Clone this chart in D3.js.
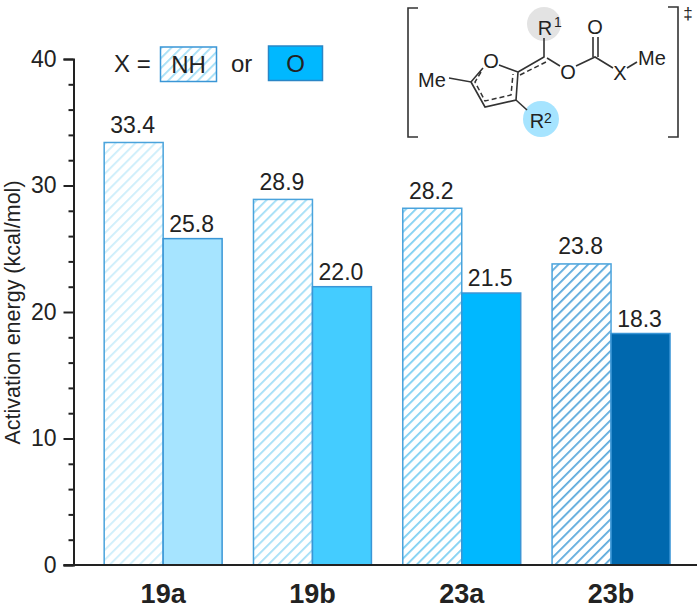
<!DOCTYPE html>
<html>
<head>
<meta charset="utf-8">
<script src="https://cdn.jsdelivr.net/npm/d3@7"></script>
<style>
  html, body { margin: 0; padding: 0; background: #fff; }
  text { font-family: "Liberation Sans", Arial, sans-serif; fill: #222; }
</style>
</head>
<body>
<div id="chart"></div>
<script>
"use strict"

let categories = ['19a', '19b', '23a', '23b'];
let nhValues = [33.4, 28.9, 28.2, 23.8];
let oValues = [25.8, 22.0, 21.5, 18.3];
let oColors = ['#a6e4ff', '#44ccff', '#00b8ff', '#0068ae'];
let nhHatchColors = ['#cdeefb', '#a4dff7', '#7fd0f2', '#5ba9dc'];
let yTicks = [0, 10, 20, 30, 40];

let width = 700,
    height = 609;

let svg = d3.select('#chart')
    .append('svg')
    .attr('width', width)
    .attr('height', height);

let defs = svg.append('defs');

// one hatch pattern per bar colour
nhHatchColors.forEach(function (c, i) {
    let p = defs.append('pattern')
        .attr('id', 'hatch-' + i)
        .attr('patternUnits', 'userSpaceOnUse')
        .attr('width', 7)
        .attr('height', 7)
        .attr('patternTransform', 'rotate(45)');
    p.append('rect').attr('width', 7).attr('height', 7).attr('fill', '#fff');
    p.append('rect').attr('width', 1.8).attr('height', 7).attr('fill', c);
});

let y = d3.scaleLinear().domain([0, 40]).range([565, 59]);
let x = d3.scaleBand().domain(categories).range([88.5, 685.7]).paddingInner(0.21).paddingOuter(0.105);
let barWidth = x.bandwidth() / 2;

// bars
let groups = svg.selectAll('.group')
    .data(categories)
    .enter()
    .append('g')
    .attr('class', 'group');

groups.append('rect')
    .attr('x', function (d) { return x(d); })
    .attr('y', function (d, i) { return y(nhValues[i]); })
    .attr('width', barWidth)
    .attr('height', function (d, i) { return y(0) - y(nhValues[i]); })
    .attr('fill', function (d, i) { return 'url(#hatch-' + i + ')'; })
    .attr('stroke', '#4aa3dc')
    .attr('stroke-width', 1.5);

groups.append('rect')
    .attr('x', function (d) { return x(d) + barWidth; })
    .attr('y', function (d, i) { return y(oValues[i]); })
    .attr('width', barWidth)
    .attr('height', function (d, i) { return y(0) - y(oValues[i]); })
    .attr('fill', function (d, i) { return oColors[i]; })
    .attr('stroke', '#3a96d6')
    .attr('stroke-width', 1.5);

// value labels
groups.append('text')
    .attr('x', function (d) { return x(d) + barWidth / 2 - 1; })
    .attr('y', function (d, i) { return y(nhValues[i]) - 9.5; })
    .attr('text-anchor', 'middle')
    .style('font-size', '23px')
    .text(function (d, i) { return nhValues[i].toFixed(1); });

groups.append('text')
    .attr('x', function (d) { return x(d) + barWidth * 1.5 - 1; })
    .attr('y', function (d, i) { return y(oValues[i]) - 7; })
    .attr('text-anchor', 'middle')
    .style('font-size', '23px')
    .text(function (d, i) { return oValues[i].toFixed(1); });

// y axis, major and minor ticks
let yAxis = d3.axisLeft(y).tickValues(yTicks).tickSize(10).tickPadding(7).tickFormat(d3.format('d'));
let yAxisG = svg.append('g').attr('transform', 'translate(73.5,0)').call(yAxis);
yAxisG.selectAll('text').style('font-size', '23px');
yAxisG.selectAll('line').attr('stroke', '#222').attr('stroke-width', 2);
yAxisG.select('.domain').attr('stroke', '#222').attr('stroke-width', 2);

let yMinor = d3.axisLeft(y).tickValues(d3.range(0, 41, 2).filter(function (d) { return d % 10 != 0; })).tickSize(5).tickFormat('');
let yMinorG = svg.append('g').attr('transform', 'translate(73.5,0)').call(yMinor);
yMinorG.select('.domain').remove();
yMinorG.selectAll('line').attr('stroke', '#222').attr('stroke-width', 2);

// x axis
let xAxis = d3.axisBottom(x).tickSize(0).tickPadding(18.5);
let xAxisG = svg.append('g').attr('transform', 'translate(0,565)').call(xAxis);
xAxisG.select('.domain').remove();
xAxisG.selectAll('text').style('font-size', '27px').style('font-weight', 'bold');
svg.append('line')
    .attr('x1', 63.5).attr('x2', 697)
    .attr('y1', 565).attr('y2', 565)
    .attr('stroke', '#222').attr('stroke-width', 2);

svg.append('text')
    .attr('transform', 'translate(20,312.5) rotate(-90)')
    .attr('text-anchor', 'middle')
    .style('font-size', '21.5px')
    .text('Activation energy (kcal/mol)');

// legend
svg.append('text').attr('x', 114).attr('y', 72).style('font-size', '24px').text('X =');
svg.append('rect').attr('x', 160.5).attr('y', 47).attr('width', 56).attr('height', 34.5)
    .attr('fill', 'url(#hatch-1)').attr('stroke', '#3a96d6').attr('stroke-width', 1.5);
svg.append('text').attr('x', 188.5).attr('y', 73).attr('text-anchor', 'middle').style('font-size', '24px').text('NH');
svg.append('text').attr('x', 231).attr('y', 72).style('font-size', '24px').text('or');
svg.append('rect').attr('x', 268.5).attr('y', 46).attr('width', 54).attr('height', 34.5)
    .attr('fill', '#00b8ff').attr('stroke', '#2a86c6').attr('stroke-width', 1.5);
svg.append('text').attr('x', 295.5).attr('y', 72).attr('text-anchor', 'middle').style('font-size', '24px').text('O');

// transition state structure
let mol = svg.append('g');
function bond(path) {
    mol.append('path').attr('d', path).attr('fill', 'none').attr('stroke', '#333')
        .attr('stroke-width', 1.6);
}
mol.append('circle').attr('cx', 544).attr('cy', 24).attr('r', 17).attr('fill', '#e3e3e3');
mol.append('circle').attr('cx', 541).attr('cy', 119).attr('r', 18).attr('fill', '#a6e4ff');
bond('M418,8H408V137H418');
bond('M668,7H678V137H668');
bond('M449,78L471,82L483,68');
bond('M499,65L518,72L516,100L485,107L471,82');
bond('M518,72L544,57V38');
bond('M547,58L560,66');
bond('M576,66L595,57L613,68');
bond('M593,57V37M598,57V37');
bond('M627,68L637,62');
bond('M516,100L527,110');
mol.append('path').attr('d', 'M520,75L548,61M481,72L475,82L485,101L511,95L513,74')
    .attr('fill', 'none').attr('stroke', '#333').attr('stroke-width', 1.5).attr('stroke-dasharray', '5 3');

function atom(t, px, py, s) {
    mol.append('text').attr('x', px).attr('y', py).attr('text-anchor', 'middle').style('font-size', (s || 20) + 'px').text(t);
}
atom('Me', 432, 87);
atom('O', 491, 68);
atom('O', 568, 79);
atom('O', 595, 34);
atom('X', 620, 80);
atom('Me', 652, 65);
atom('R', 545, 35);
atom('1', 558, 27, 14);
atom('R', 537, 128);
atom('2', 548, 123, 14);
atom('‡', 688, 19, 17);
</script>
</body>
</html>
